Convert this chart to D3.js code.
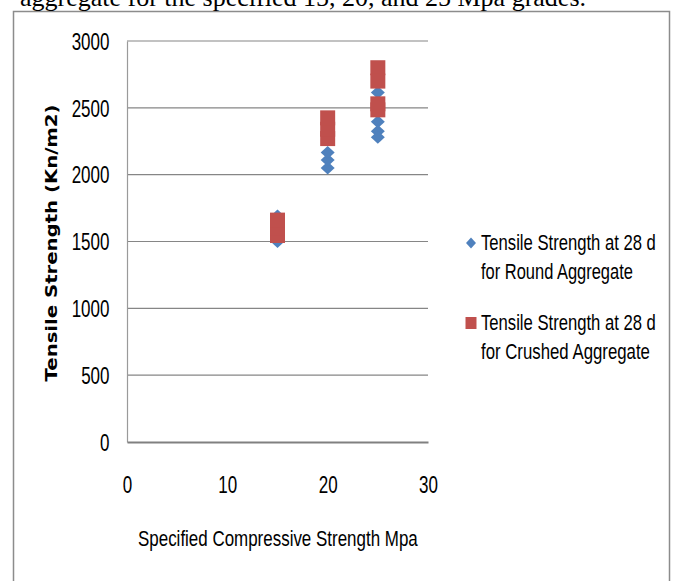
<!DOCTYPE html>
<html>
<head>
<meta charset="utf-8">
<script src="https://cdn.jsdelivr.net/npm/d3@7"></script>
<style>
  body { margin: 0; background: #fff; }
  svg { display: block; }
  .tick text { font-family: "Liberation Sans", sans-serif; font-size: 23px; fill: #000; }
  .legend text { font-family: "Liberation Sans", sans-serif; font-size: 22px; fill: #000; }
</style>
</head>
<body>
<svg width="678" height="581"></svg>
<script>
// data
const xTicks = [0, 10, 20, 30]
const yTicks = [0, 500, 1000, 1500, 2000, 2500, 3000]

const roundX = [15, 15, 15, 20, 20, 20, 25, 25, 25, 25]
const roundY = [1500, 1600, 1690, 2050, 2110, 2165, 2615, 2395, 2325, 2280]

const crushedX = [15, 15, 15, 20, 20, 20, 25, 25, 25, 25]
const crushedY = [1545, 1600, 1660, 2270, 2340, 2425, 2800, 2700, 2530, 2485]

const legendNames = [
  ["Tensile Strength at 28 d", "for Round Aggregate"],
  ["Tensile Strength at 28 d", "for Crushed Aggregate"]
]
// widths the legend lines take in the picture
const legendWidths = [[175, 152], [175, 169]]

const blue = "#4f81bd", red = "#c0504d"
const squeeze = 0.74   // the source picture is squeezed sideways

const svg = d3.select("svg")

// squeeze a text sideways so it is w pixels long, keeping its left edge at x0
function fitWidth(sel, x0, w) {
  sel.each(function () {
    const len = this.getComputedTextLength()
    const k = w / len
    d3.select(this).attr("x", x0 / k).attr("transform", `scale(${k},1)`)
  })
}

// frame around the figure
svg.append("rect")
  .attr("x", 13.5).attr("y", 11.5)
  .attr("width", 656).attr("height", 600)
  .attr("fill", "none").attr("stroke", "#8c8c8c").attr("stroke-width", 1.5)

// caption line cut off at the top
svg.append("text")
  .attr("x", 20).attr("y", 6)
  .style("font-family", "Liberation Serif, serif")
  .style("font-size", "26px")
  .text("aggregate for the specified 15, 20, and 25 Mpa grades.")

const x = d3.scaleLinear().domain([0, 30]).range([127, 428])
const y = d3.scaleLinear().domain([0, 3000]).range([442, 41])

// gridlines
svg.append("g")
  .selectAll("line")
  .data(yTicks.slice(1))
  .enter()
  .append("line")
  .attr("x1", x(0)).attr("x2", x(30))
  .attr("y1", d => y(d)).attr("y2", d => y(d))
  .attr("stroke", "#868686").attr("stroke-width", 1.2)

// y axis
const yAxis = svg.append("g")
  .attr("transform", `translate(${x(0)},0)`)
  .call(d3.axisLeft(y).tickValues(yTicks).tickFormat(d3.format("d")).tickSize(0).tickPadding(17.5 / squeeze))
yAxis.select("path").attr("stroke", "#9a9a9a").attr("stroke-width", 1.2)
yAxis.selectAll(".tick text").attr("transform", `scale(${squeeze},1)`).attr("dy", "0.36em")

// x axis (no tick marks)
const xAxis = svg.append("g")
  .attr("transform", `translate(0,${y(0)})`)
  .call(d3.axisBottom(x).tickValues(xTicks).tickSize(0).tickPadding(34.5))
xAxis.select("path").attr("stroke", "#808080").attr("stroke-width", 2)
xAxis.selectAll(".tick text").attr("transform", `scale(${squeeze},1)`)

// axis titles
svg.append("text")
  .attr("transform", "translate(57,243) rotate(-90)")
  .attr("x", 0).attr("y", 0)
  .attr("text-anchor", "middle")
  .attr("textLength", 277).attr("lengthAdjust", "spacingAndGlyphs")
  .style("font-family", "DejaVu Sans, sans-serif")
  .style("font-weight", "bold")
  .style("font-size", "15px")
  .text("Tensile Strength (Kn/m2)")

svg.append("text")
  .attr("y", 546)
  .style("font-family", "Liberation Sans, sans-serif")
  .style("font-size", "22px")
  .text("Specified Compressive Strength Mpa")
  .call(fitWidth, 138, 280)

// round aggregate diamonds
const diamond = "M0,-6.5L7,0L0,6.5L-7,0Z"
svg.append("g")
  .selectAll("path")
  .data(roundY)
  .enter()
  .append("path")
  .attr("d", diamond)
  .attr("transform", (d, i) => `translate(${x(roundX[i])},${y(d)})`)
  .attr("fill", blue)

// crushed aggregate squares
svg.append("g")
  .selectAll("rect")
  .data(crushedY)
  .enter()
  .append("rect")
  .attr("x", (d, i) => x(crushedX[i]) - 7.5)
  .attr("y", d => y(d) - 7.5)
  .attr("width", 15).attr("height", 15)
  .attr("fill", red)

// legend
const legend = svg.append("g").attr("class", "legend")
const lg = legend.selectAll("g")
  .data(legendNames)
  .enter()
  .append("g")
  .attr("transform", (d, i) => `translate(471,${243 + i * 80})`)
lg.append("path")
  .attr("d", (d, i) => i == 0 ? "M0,-5.5L5,0L0,5.5L-5,0Z" : "M-5.5,-6H5.5V6H-5.5Z")
  .attr("fill", (d, i) => i == 0 ? blue : red)
lg.selectAll("text")
  .data((d, i) => d.map((t, j) => ({t: t, w: legendWidths[i][j]})))
  .enter()
  .append("text")
  .attr("y", (d, j) => j * 29 + 7)
  .text(d => d.t)
  .each(function (d) { d3.select(this).call(fitWidth, 10, d.w) })
</script>
</body>
</html>
